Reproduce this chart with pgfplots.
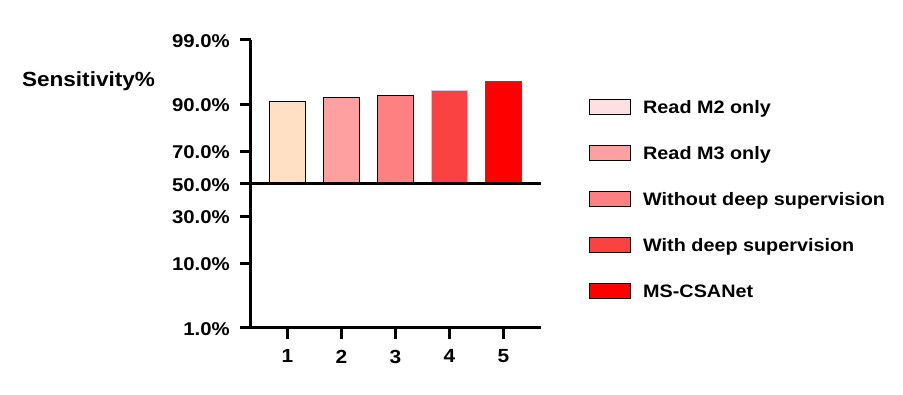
\documentclass[border=0pt]{standalone}
\usepackage{fontspec}
\setmainfont{Liberation Sans}[FakeStretch=1.1]
\usepackage{pgfplots}
\pgfplotsset{compat=1.18}
\definecolor{cA}{HTML}{FFE0C4}
\definecolor{cAleg}{HTML}{FFE0E2}
\definecolor{cB}{HTML}{FFA0A0}
\definecolor{cC}{HTML}{FF8080}
\definecolor{cD}{HTML}{FA4242}
\definecolor{cE}{HTML}{FF0000}
\definecolor{edgeD}{HTML}{CCCCCC}
\definecolor{edgeE}{HTML}{555555}
\newcommand\tickfont{\fontsize{18.5}{22}\selectfont\bfseries}
\newcommand\xtickfont{\fontsize{19}{22}\selectfont\bfseries}
\newcommand\legfont{\fontsize{18}{22}\selectfont\bfseries}
\newcommand\labfont{\fontsize{20.5}{24}\selectfont\bfseries}
\begin{document}
\begin{tikzpicture}
\begin{axis}[
  at={(0pt,0pt)}, anchor=south west,
  scale only axis, width=290pt, height=287.7pt,
  xmin=0.324, xmax=5.694,
  ymin=-2.3263, ymax=2.3263,
  axis x line=bottom, axis y line=left,
  axis line style={-, line width=3pt, black},
  tick style={line width=3pt, black},
  major tick length=11pt, tick align=outside,
  xtick={1,2,3,4,5}, xticklabels={1,2,3,4,5},
  % probit (normal-probability) positions of 1, 10, 30, 50, 70, 90, 99 %
  ytick={-2.3263,-1.2816,-0.5244,0,0.5244,1.2816,2.3263},
  yticklabels={1.0\%,10.0\%,30.0\%,50.0\%,70.0\%,90.0\%,99.0\%},
  /pgf/number format/assume math mode=true,
  yticklabel style={font=\tickfont, anchor=east, inner sep=0pt, xshift=-10pt, yshift=-1pt},
  xticklabel style={font=\xtickfont, anchor=north, inner sep=0pt, yshift=-11pt},
  every axis y label/.style={at={(axis description cs:-0.5603,0.8377)}, anchor=base, inner sep=0pt, font=\labfont},
  ylabel={Sensitivity\%},
  clip=false,
  legend image code/.code={\draw[line width=1.2pt,#1] (0pt,-7.5pt) rectangle (41pt,7.5pt);},
  legend cell align=left,
  legend style={draw=none, fill=none, inner sep=0pt, outer sep=0pt,
    row sep=29.75pt, column sep=12pt, at={(1.1655,0.795)}, anchor=north west,
    font=\legfont, nodes={inner sep=0pt, text height=13pt, text depth=0pt}},
]
% bar heights in probit units (approx. 90.8, 91.8, 92.4, 93.5, 95.1 %)
\addplot[ybar, bar width=36pt, bar shift=0pt, fill=cA, draw=black, line width=1.3pt, forget plot] coordinates {(1,1.327)};
\addplot[ybar, bar width=36pt, bar shift=0pt, fill=cB, draw=black, line width=1.3pt, forget plot] coordinates {(2,1.392)};
\addplot[ybar, bar width=36pt, bar shift=0pt, fill=cC, draw=black, line width=1.3pt, forget plot] coordinates {(3,1.434)};
\addplot[ybar, bar width=36pt, bar shift=0pt, fill=cD, draw=edgeD, line width=1.3pt, forget plot] coordinates {(4,1.515)};
\addplot[ybar, bar width=36pt, bar shift=0pt, fill=cE, draw=edgeE, line width=1.3pt, forget plot] coordinates {(5,1.650)};
\addplot[black, line width=3pt, forget plot] coordinates {(0.324,0) (5.694,0)};
\addlegendimage{fill=cAleg, draw=black}
\addlegendentry{Read M2 only}
\addlegendimage{fill=cB, draw=black}
\addlegendentry{Read M3 only}
\addlegendimage{fill=cC, draw=black}
\addlegendentry{Without deep supervision}
\addlegendimage{fill=cD, draw=black}
\addlegendentry{With deep supervision}
\addlegendimage{fill=cE, draw=black}
\addlegendentry{MS-CSANet}
\end{axis}
\pgfresetboundingbox
\path[use as bounding box] (-251pt,-67.3pt) rectangle (652pt,327.7pt);
\end{tikzpicture}
\end{document}
